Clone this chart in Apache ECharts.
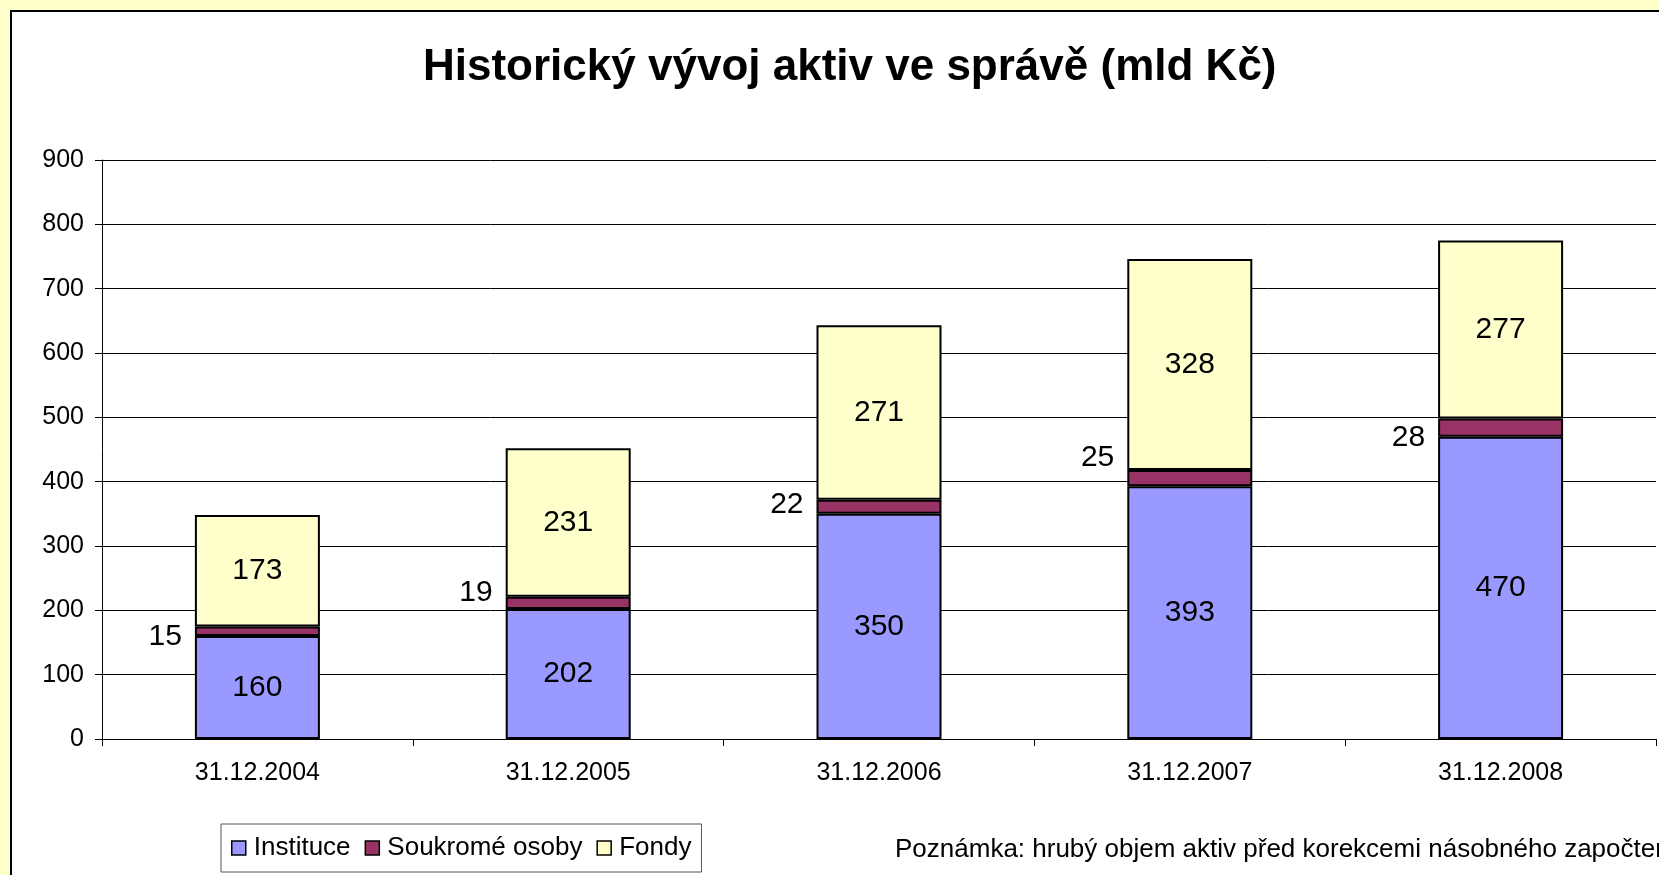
<!DOCTYPE html>
<html>
<head>
<meta charset="utf-8">
<script src="https://cdn.jsdelivr.net/npm/echarts@6/dist/echarts.min.js"></script>
<style>
  html, body { margin: 0; padding: 0; background: #FFFFCC; }
  #chart { width: 1659px; height: 875px; }
</style>
</head>
<body>
<div id="chart"></div>
<script>
var categories = ['31.12.2004', '31.12.2005', '31.12.2006', '31.12.2007', '31.12.2008'];
var instituce = [160, 202, 350, 393, 470];
var soukrome = [15, 19, 22, 25, 28];
var fondy = [173, 231, 271, 328, 277];
// vertical nudge of the "Soukromé osoby" labels, as placed in the original
var soukromeLabelShift = [5, -10, -2, -20, 10];

var myChart = echarts.init(document.getElementById('chart'));
var font = '"Liberation Sans", Arial, sans-serif';

var option = {
    backgroundColor: '#FFFFCC',
    animation: false,
    textStyle: { fontFamily: font, color: '#000' },
    graphic: [{
        type: 'rect',
        silent: true,
        z: -10,
        shape: { x: 11, y: 11, width: 1700, height: 900 },
        style: { fill: '#fff', stroke: '#000', lineWidth: 2 }
    }, {
        type: 'text',
        left: 895,
        top: 837,
        style: {
            text: 'Poznámka: hrubý objem aktiv před korekcemi násobného započtení',
            font: '26px "Liberation Sans", Arial, sans-serif',
            fill: '#000'
        }
    }],
    title: {
        text: 'Historický vývoj aktiv ve správě (mld Kč)',
        left: 418,
        top: 41,
        textStyle: { fontFamily: font, fontSize: 44, fontWeight: 'bold', color: '#000' }
    },
    legend: {
        left: 221,
        top: 824,
        orient: 'horizontal',
        backgroundColor: '#fff',
        borderColor: '#555',
        borderWidth: 1,
        padding: [11, 10, 11, 10],
        itemGap: 14,
        itemWidth: 14,
        itemHeight: 14,
        icon: 'rect',
        itemStyle: { borderColor: '#000', borderWidth: 1.5 },
        textStyle: { fontFamily: font, fontSize: 26, color: '#000', padding: [0, 0, 0, 3] },
        data: ['Instituce', 'Soukromé osoby', 'Fondy']
    },
    grid: {
        left: 102,
        right: 3,
        top: 160,
        bottom: 136,
        containLabel: false
    },
    xAxis: {
        type: 'category',
        data: categories,
        axisLine: { lineStyle: { color: '#000', width: 1 } },
        axisTick: { show: true, length: 7, lineStyle: { color: '#000' } },
        axisLabel: { fontFamily: font, fontSize: 25, color: '#000', margin: 22 }
    },
    yAxis: {
        type: 'value',
        min: 0,
        max: 900,
        interval: 100,
        axisLine: { show: true, lineStyle: { color: '#000', width: 1 } },
        axisTick: { show: true, length: 7, lineStyle: { color: '#000' } },
        splitLine: { lineStyle: { color: '#000', width: 1 } },
        axisLabel: { fontFamily: font, fontSize: 25, color: '#000', margin: 18 }
    },
    series: [{
        name: 'Instituce',
        type: 'bar',
        stack: 'total',
        barWidth: 125,
        data: instituce,
        itemStyle: { color: '#9999FF', borderColor: '#000', borderWidth: 2 },
        label: { show: true, position: 'inside', fontFamily: font, fontSize: 30, color: '#000' }
    }, {
        name: 'Soukromé osoby',
        type: 'bar',
        stack: 'total',
        barWidth: 125,
        data: soukrome.map(function (v, i) {
            return { value: v, label: { offset: [0, soukromeLabelShift[i]] } };
        }),
        itemStyle: { color: '#993366', borderColor: '#000', borderWidth: 2 },
        label: { show: true, position: 'left', distance: 13, fontFamily: font, fontSize: 30, color: '#000' }
    }, {
        name: 'Fondy',
        type: 'bar',
        stack: 'total',
        barWidth: 125,
        data: fondy,
        itemStyle: { color: '#FFFFCC', borderColor: '#000', borderWidth: 2 },
        label: { show: true, position: 'inside', fontFamily: font, fontSize: 30, color: '#000' }
    }]
};

myChart.setOption(option);
</script>
</body>
</html>
